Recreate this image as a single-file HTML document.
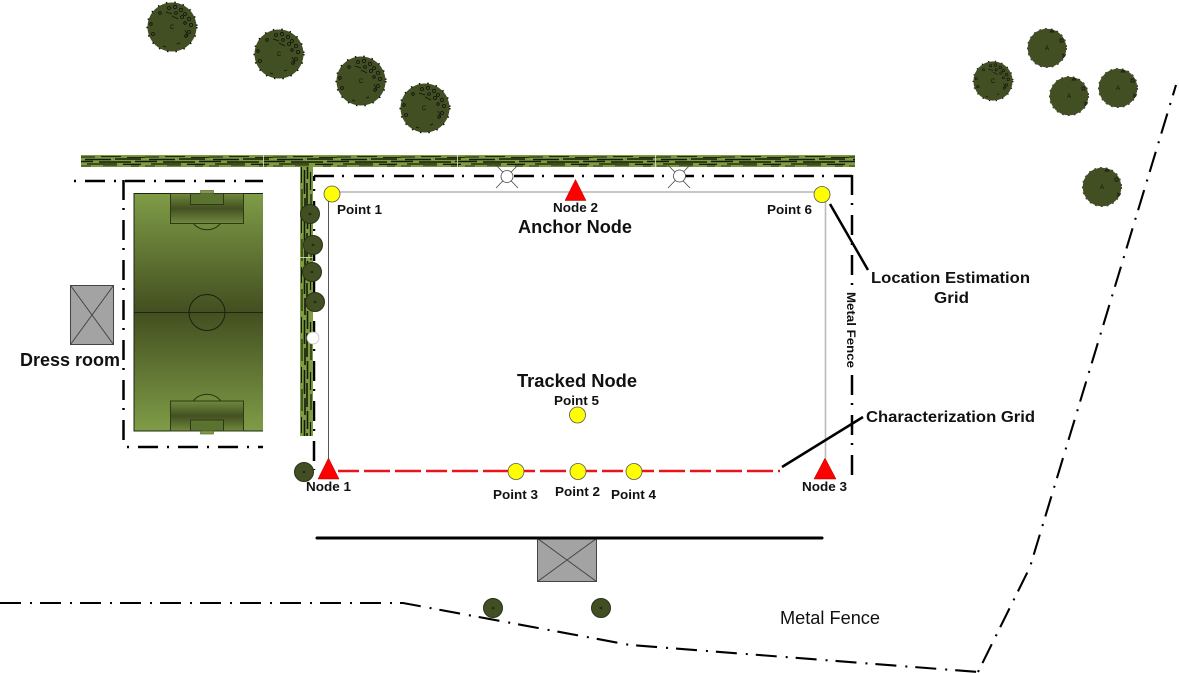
<!DOCTYPE html>
<html><head><meta charset="utf-8"><style>
html,body{margin:0;padding:0;background:#fff}
svg{display:block}
text{font-family:"Liberation Sans",sans-serif;font-weight:bold;fill:#111}
</style></head><body>
<svg width="1179" height="673" viewBox="0 0 1179 673" xmlns="http://www.w3.org/2000/svg">
<defs>
<linearGradient id="fg" x1="0" y1="0" x2="0" y2="1">
<stop offset="0" stop-color="#7f9c47"/><stop offset=".5" stop-color="#434f20"/><stop offset="1" stop-color="#7f9c47"/>
</linearGradient>
<linearGradient id="pb" x1="0" y1="0" x2="0" y2="1">
<stop offset="0" stop-color="#6f8a3c"/><stop offset=".5" stop-color="#445022"/><stop offset="1" stop-color="#6f8a3c"/>
</linearGradient>
<pattern id="h" width="64" height="12" patternUnits="userSpaceOnUse" patternTransform="translate(81 155)">
<rect width="64" height="12" fill="#7f9c42"/>
<g stroke="#141b0a" fill="none">
<path d="M0 2h14M20 1.600h20M46 2.400h18" stroke-width="1"/>
<path d="M4 4.500h26M34 4h26" stroke-width="1.500"/>
<path d="M0 6.500h12M18 7h32M54 6.500h10" stroke-width="1.600"/>
<path d="M6 9h30M42 9.300h18" stroke-width="1.300"/>
<path d="M0 11h10M22 10.800h14M50 11h8" stroke-width=".7"/>
</g>
</pattern>
<pattern id="v" width="13" height="50" patternUnits="userSpaceOnUse" patternTransform="translate(300 167)">
<rect width="13" height="50" fill="#7f9c42"/>
<g stroke="#141b0a" fill="none">
<path d="M1.500 0v16M2 22v22" stroke-width="1.100"/>
<path d="M4.500 3v24M5 31v17" stroke-width="1.600"/>
<path d="M7.500 0v12M7 16v24M7.500 44v6" stroke-width="1.600"/>
<path d="M10.500 5v18M11 27v16" stroke-width="1.200"/>
</g>
</pattern>
<g id="tc">
<circle r="24.500" fill="#424f22"/>
<circle r="24.800" fill="none" stroke="#111" stroke-width="1.600" stroke-dasharray="1.500 7"/>
<g fill="none" stroke="#111" stroke-width=".8">
<circle cx="-3" cy="-19" r="1.500"/><circle cx="3" cy="-20" r="1.700"/><circle cx="9" cy="-17" r="1.700"/><circle cx="13" cy="-13" r="1.500"/><circle cx="4" cy="-14" r="1.400"/><circle cx="10" cy="-10" r="1.500"/><circle cx="17" cy="-8" r="1.700"/><circle cx="19" cy="-2" r="1.600"/><circle cx="13" cy="-4" r="1.300"/><circle cx="17" cy="5" r="1.500"/><circle cx="14" cy="9" r="1.300"/><circle cx="-21" cy="-3" r="1.300"/><circle cx="-19" cy="7" r="1.500"/><circle cx="-12" cy="-14" r="1.300"/>
<path d="M-6 -15l6 2M0 -11l6 3M13 3l3 6M-9 19l3 1M5 17l3-1"/>
</g>
</g>
<g id="ta">
<circle r="19.300" fill="#424f22"/>
<circle r="19.600" fill="none" stroke="#333" stroke-width=".9" stroke-dasharray="2 4"/>
<path d="M-19 -7a20 20 0 0 1 12 -12M-18 9a20 20 0 0 0 10 10" fill="none" stroke="#fff" stroke-width=".8" stroke-dasharray="2 2"/>
<g fill="none" stroke="#111" stroke-width=".7"><path d="M3 -16l2 -2 2 2zM13 -9h3v3h-3zM16 6l2 2-2 2z"/></g>
</g>
<g id="ts">
<circle r="9.500" fill="#424f22" stroke="#2a331a" stroke-width="1"/>
<circle r="1" fill="none" stroke="#111" stroke-width=".6"/>
</g>
</defs>

<!-- trees top -->
<use href="#tc" x="172" y="27"/><use href="#tc" x="279" y="54"/><use href="#tc" x="361" y="81"/><use href="#tc" x="425" y="108"/>
<g font-size="6" text-anchor="middle">
<text x="172" y="29" style="font-weight:normal">C</text><text x="279" y="56" style="font-weight:normal">C</text><text x="361" y="83" style="font-weight:normal">C</text><text x="424" y="110" style="font-weight:normal">C</text>
</g>
<g transform="translate(993 81) scale(.8)"><use href="#tc"/></g>
<use href="#ta" x="1047" y="48"/><use href="#ta" x="1069" y="96"/><use href="#ta" x="1118" y="88"/><use href="#ta" x="1102" y="187"/>
<g font-size="6" text-anchor="middle">
<text x="993" y="83" style="font-weight:normal">C</text><text x="1047" y="50" style="font-weight:normal">A</text><text x="1069" y="98" style="font-weight:normal">A</text><text x="1118" y="90" style="font-weight:normal">A</text><text x="1102" y="189" style="font-weight:normal">A</text>
</g>

<!-- fences -->
<g fill="none" stroke="#000" stroke-width="2.500">
<path d="M74 181H263" stroke-dasharray="2 9 20 9"/>
<path d="M123.500 180V447" stroke-dasharray="20 8 2 10"/>
<path d="M127 447H263" stroke-dasharray="2 9 20 9"/>
<path d="M314 176H852" stroke-dasharray="20 8 2 10"/>
<path d="M852 175V478" stroke-dasharray="20 8 2 10"/>
<path d="M314 176V470" stroke-dasharray="20 8 2 10" stroke-dashoffset="15"/>
<path d="M0 603H403L630 645L978 672" stroke-dasharray="21 9 2 8" stroke-width="2.100"/>
<path d="M978 672L1030 567L1176 85" stroke-dasharray="2 8 21 9" stroke-width="2.100"/>
</g>
<rect x="844" y="290" width="15" height="79" fill="#fff"/>

<!-- hedges -->
<rect x="81" y="155" width="774" height="12" fill="url(#h)"/>
<path d="M263.500 155v12M457.500 155v12M655.500 155v12" stroke="#dfe6cf" stroke-width=".8"/>
<rect x="300" y="167" width="13" height="269" fill="url(#v)"/>
<path d="M300 257.500h13" stroke="#dfe6cf" stroke-width=".8"/>

<!-- football field -->
<rect x="134" y="193.500" width="129" height="237.500" fill="url(#fg)"/>
<path d="M263 193.500H134V431H263M134 312.500H263" fill="none" stroke="#1f2610" stroke-width="1"/>
<circle cx="207" cy="312.500" r="18" fill="none" stroke="#1a200c"/>
<path d="M193 223a18 18 0 0 0 28 0zM193 401a18 18 0 0 1 28 0z" fill="#6f8a3c" stroke="#2a3315"/>
<rect x="170.500" y="193.500" width="73" height="30" fill="url(#pb)" stroke="#2f3917"/>
<rect x="170.500" y="401" width="73" height="30" fill="url(#pb)" stroke="#2f3917"/>
<rect x="190.500" y="193.500" width="33" height="11" fill="#5c7330" stroke="#2f3917"/>
<rect x="190.500" y="420" width="33" height="11" fill="#5c7330" stroke="#2f3917"/>
<rect x="200.500" y="190.500" width="13" height="3" fill="#7f9c47" stroke="#55683a" stroke-width=".7"/>
<rect x="200.500" y="431" width="13" height="3" fill="#7f9c47" stroke="#55683a" stroke-width=".7"/>

<!-- buildings -->
<g fill="#a3a3a3" stroke="#444" stroke-width="1">
<rect x="70.500" y="285.500" width="43" height="59"/><path d="M70.500 285.500L113.500 344.500M113.500 285.500L70.500 344.500" fill="none"/>
<rect x="537.500" y="538.500" width="59" height="43"/><path d="M537.500 538.500L596.500 581.500M596.500 538.500L537.500 581.500" fill="none"/>
</g>
<path d="M317 538H822" stroke="#000" stroke-width="3" stroke-linecap="round"/>

<!-- grid -->
<path d="M329 192H825" stroke="#a8a8a8" stroke-width="1.300" fill="none"/>
<path d="M825.500 192V458" stroke="#bbb" stroke-width="1.600" fill="none"/>
<path d="M328.500 192V460" stroke="#555" stroke-width="1" fill="none"/>

<!-- side trees -->
<use href="#ts" x="310" y="214"/><use href="#ts" x="313" y="245"/><use href="#ts" x="312" y="272"/><use href="#ts" x="315" y="302"/>
<use href="#ts" x="304" y="472"/><use href="#ts" x="493" y="608"/><use href="#ts" x="601" y="608"/>
<circle cx="313" cy="338" r="6" fill="#fff" stroke="#bbb" stroke-width=".7"/>

<!-- lamps -->
<g fill="#fff" stroke="#444" stroke-width=".8">
<path d="M496 165L518 188M518 165L496 188" fill="none"/><circle cx="507" cy="176.500" r="6"/>
<path d="M668 165L690 188M690 165L668 188" fill="none"/><circle cx="679.500" cy="176" r="6"/>
</g>

<!-- characterization line -->
<path d="M338 471H780" stroke="#e8151f" stroke-width="2.600" stroke-dasharray="21 5 26 5 26 5" fill="none"/>
<path d="M830 204L868 270M782 467L863 417" stroke="#000" stroke-width="2.500" fill="none"/>

<!-- nodes -->
<g fill="#ff0000" stroke="#a00" stroke-width=".5">
<path d="M328.500 458L339 479H318Z"/><path d="M575.500 179.500L586 200.500H565Z"/><path d="M825 458L836 479H814Z"/>
</g>
<g fill="#ffff00" stroke="#555" stroke-width=".8">
<circle cx="332" cy="194" r="8"/><circle cx="822" cy="194.500" r="8"/><circle cx="577.500" cy="415" r="8"/>
<circle cx="516" cy="471.500" r="8"/><circle cx="578" cy="471.500" r="8"/><circle cx="634" cy="471.500" r="8"/>
</g>

<!-- labels -->
<g font-size="13">
<text x="337" y="214" textLength="45" lengthAdjust="spacingAndGlyphs">Point 1</text>
<text x="553" y="212" textLength="45" lengthAdjust="spacingAndGlyphs">Node 2</text>
<text x="767" y="214" textLength="45" lengthAdjust="spacingAndGlyphs">Point 6</text>
<text x="554" y="405" textLength="45" lengthAdjust="spacingAndGlyphs">Point 5</text>
<text x="306" y="491" textLength="45" lengthAdjust="spacingAndGlyphs">Node 1</text>
<text x="493" y="499" textLength="45" lengthAdjust="spacingAndGlyphs">Point 3</text>
<text x="555" y="496" textLength="45" lengthAdjust="spacingAndGlyphs">Point 2</text>
<text x="611" y="499" textLength="45" lengthAdjust="spacingAndGlyphs">Point 4</text>
<text x="802" y="491" textLength="45" lengthAdjust="spacingAndGlyphs">Node 3</text>
<text transform="translate(847 292) rotate(90)" font-size="12" textLength="76" lengthAdjust="spacingAndGlyphs">Metal Fence</text>
</g>
<g font-size="18">
<text x="518" y="233" textLength="114" lengthAdjust="spacingAndGlyphs">Anchor Node</text>
<text x="517" y="387" textLength="120" lengthAdjust="spacingAndGlyphs">Tracked Node</text>
<text x="20" y="366" textLength="100" lengthAdjust="spacingAndGlyphs">Dress room</text>
</g>
<g font-size="15.500">
<text x="871" y="283" textLength="159" lengthAdjust="spacingAndGlyphs">Location Estimation</text>
<text x="934" y="303" textLength="35" lengthAdjust="spacingAndGlyphs">Grid</text>
<text x="866" y="422" textLength="169" lengthAdjust="spacingAndGlyphs">Characterization Grid</text>
</g>
<text x="780" y="624" font-size="18" style="font-weight:normal" textLength="100" lengthAdjust="spacingAndGlyphs">Metal Fence</text>
</svg>
</body></html>
